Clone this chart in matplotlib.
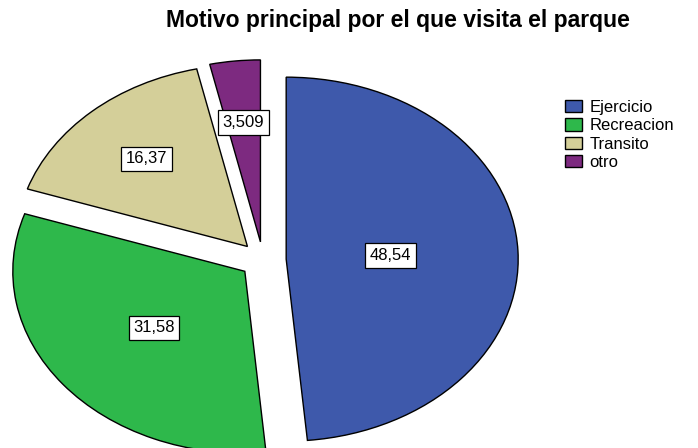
import matplotlib
matplotlib.use("Agg")
import matplotlib.pyplot as plt
import numpy as np

categories = ["Ejercicio", "Recreacion", "Transito", "otro"]
values = [48.54, 31.58, 16.37, 3.509]
value_labels = ["48,54", "31,58", "16,37", "3,509"]
title = "Motivo principal por el que visita el parque"

colors = ["#3e59ab", "#2eb84b", "#d4cf99", "#7d2a80"]
label_radius = [0.45, 0.5, 0.65, 0.66]

plt.rcParams["font.family"] = ["Liberation Sans", "DejaVu Sans"]

W, H = 698, 448
fig = plt.figure(figsize=(W / 100, H / 100), dpi=100)
ax = fig.add_axes([0, 0, 1, 1])

wedges, _ = ax.pie(values, explode=[0.1] * len(values), colors=colors,
                   startangle=90, counterclock=False,
                   wedgeprops=dict(edgecolor="black", linewidth=1.0))
ax.set_aspect("auto")
cx, cy, rx, ry = 263, 260, 232, 182
ax.set_xlim(-cx / rx, (W - cx) / rx)
ax.set_ylim(-(H - cy) / ry, cy / ry)
ax.axis("off")

for w, lab, r in zip(wedges, value_labels, label_radius):
    th = np.deg2rad((w.theta1 + w.theta2) / 2)
    x0, y0 = w.center
    ax.text(x0 + r * np.cos(th), y0 + r * np.sin(th), lab,
            ha="center", va="center", fontsize=12,
            bbox=dict(boxstyle="square,pad=0.28", facecolor="white",
                      edgecolor="black", linewidth=0.9))

fig.text(398 / W, 1 - 20 / H, title, ha="center", va="center",
         fontsize=16.5, fontweight="bold")

ax.legend(wedges, categories, loc="upper left",
          bbox_to_anchor=(565 / W, 1 - 100 / H), bbox_transform=fig.transFigure,
          frameon=False, fontsize=12, handlelength=1.0, handleheight=0.75,
          handletextpad=0.45, labelspacing=0.2, borderaxespad=0, borderpad=0)

fig.savefig("out.png", dpi=100)
